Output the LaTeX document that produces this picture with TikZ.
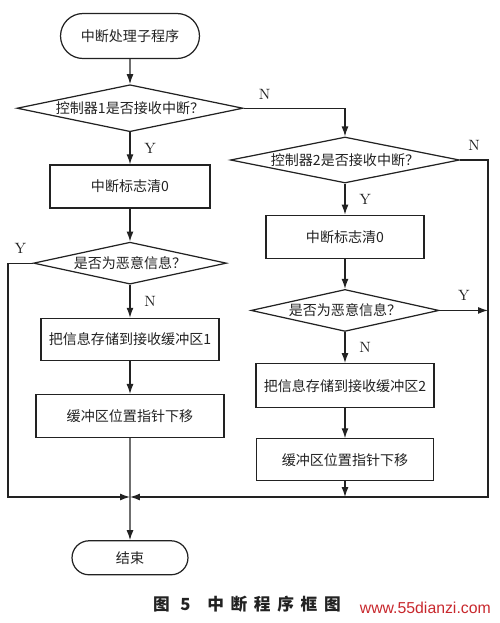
\documentclass[tikz,border=0pt]{standalone}
\usepackage{fontspec}
\usepackage{xcolor,tikz}
\usetikzlibrary{arrows.meta,positioning,shapes.geometric,shapes.misc}
\newfontfamily\cjk{Noto Sans CJK SC}
\newfontfamily\cjkcap[LetterSpace=40]{Noto Sans CJK SC}
\newfontfamily\webfont{Liberation Sans}
\definecolor{ink}{HTML}{222222}
\definecolor{stamp}{HTML}{C8282D}
\tikzset{box/.style={draw=ink,line width=.7pt,minimum height=.86cm,inner sep=2pt,align=center,font=\cjk\fontsize{8}{10}\selectfont,text=ink},decide/.style={box,diamond,aspect=4.5,inner sep=0pt},term/.style={box,rounded rectangle},flow/.style={-{Latex[length=2mm,width=1.4mm]},line width=.7pt,draw=ink},yn/.style={font=\fontsize{8.5}{10}\selectfont,text=ink}}

\begin{document}
\begin{tikzpicture}[x=.02cm,y=.02cm]
\useasboundingbox (0,0) rectangle (500,-623);
\node[term,minimum width=2.92cm,minimum height=.9cm] (start) at (130,-36) {中断处理子程序};
\node[decide,minimum width=4.52cm,minimum height=.94cm,below=.5cm of start] (recv1) {控制器1是否接收中断？};
\node[box,minimum width=3.2cm,below=.64cm of recv1] (clear1) {中断标志清0};
\node[decide,minimum width=3.86cm,minimum height=.84cm,below=.66cm of clear1] (spam1) {是否为恶意信息？};
\node[box,minimum width=3.56cm,minimum height=.84cm,below=.66cm of spam1] (store1) {把信息存储到接收缓冲区1};
\node[box,minimum width=3.76cm,below=.66cm of store1] (shift1) {缓冲区位置指针下移};
\node[term,minimum width=2.46cm,minimum height=.68cm,below=2.04cm of shift1] (stop) {结束};
\node[decide,minimum width=4.58cm,minimum height=.86cm] (recv2) at (345,-160) {控制器2是否接收中断？};
\node[box,minimum width=3.16cm,below=.62cm of recv2] (clear2) {中断标志清0};
\node[decide,minimum width=3.76cm,minimum height=.84cm,below=.6cm of clear2] (spam2) {是否为恶意信息？};
\node[box,minimum width=3.56cm,minimum height=.88cm,below=.62cm of spam2] (store2) {把信息存储到接收缓冲区2};
\node[box,minimum width=3.54cm,minimum height=.84cm,below=.6cm of store2] (shift2) {缓冲区位置指针下移};
\coordinate (join) at (130,-497);
\coordinate (rail) at (488,-160);
% left branch
\draw[flow] (start)--(recv1);
\draw[flow] (recv1)--(clear1) node[yn,midway,right=.16cm]{Y};
\draw[flow] (clear1)--(spam1);
\draw[flow] (spam1)--(store1) node[yn,midway,right=.16cm]{N};
\draw[flow] (store1)--(shift1);
\draw[flow] (shift1)--(stop);
\draw[flow] (spam1.west)--++(-25,0) node[yn,midway,above=2pt]{Y} |- (join);
% right branch
\draw[flow] (recv1.east) -| (recv2.north) node[yn,pos=0,above right=1pt and 5pt]{N};
\draw[flow] (recv2.east)--(rail) node[yn,midway,above=2pt]{N} |- (join);
\draw[flow] (recv2)--(clear2) node[yn,midway,right=.16cm]{Y};
\draw[flow] (clear2)--(spam2);
\draw[flow] (spam2)--(store2) node[yn,midway,right=.16cm]{N};
\draw[flow] (store2)--(shift2);
\draw[flow] (shift2.south)--(shift2.south |- join);
\draw[flow] (spam2.east)--(spam2.east -| rail) node[yn,midway,above=2pt]{Y};
\node[font=\cjkcap\bfseries\fontsize{9.5}{11}\selectfont,text=ink] (caption) at (247,-604) {图 5\quad 中断程序框图};
\node[font=\webfont\fontsize{9}{10}\selectfont,text=stamp,anchor=east] (site) at (497,-608) {www.55dianzi.com};
\end{tikzpicture}
\end{document}
